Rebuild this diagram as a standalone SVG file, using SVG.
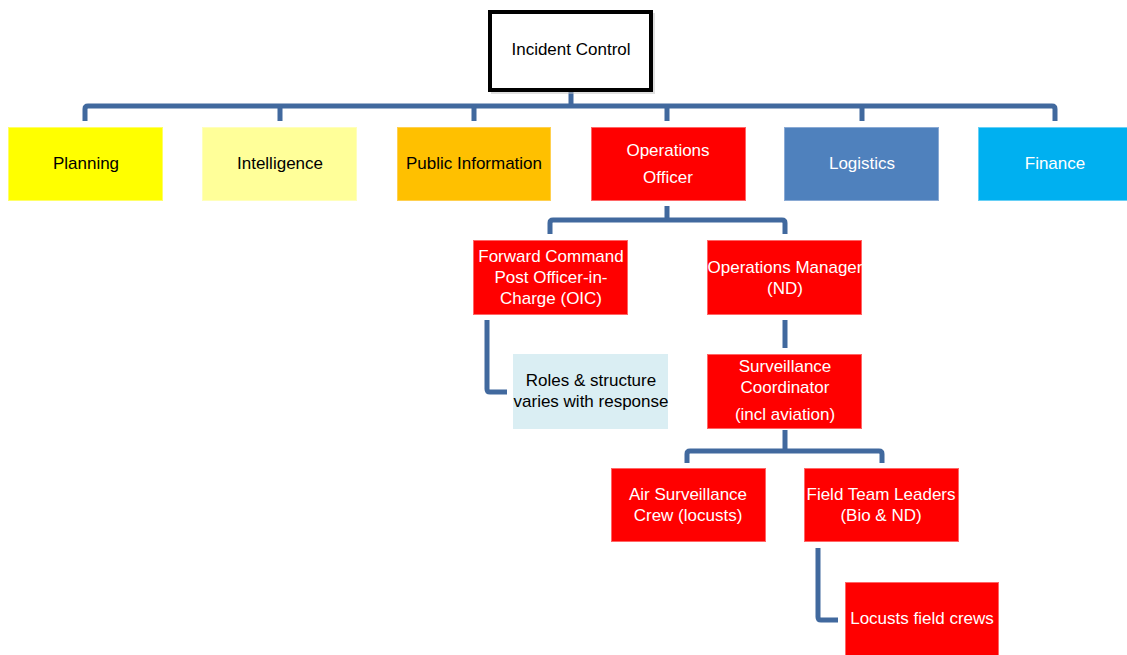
<svg xmlns="http://www.w3.org/2000/svg" width="1127" height="655" viewBox="0 0 1127 655">
  <style>
    .box { stroke-width: 1; }
    .lbl { font-family: "Liberation Sans", Arial, sans-serif; font-size: 17px; text-anchor: middle; }
    .dark { fill: #000000; }
    .light { fill: #ffffff; }
    .conn { fill: none; stroke: #41699e; stroke-width: 5; stroke-linejoin: round; stroke-linecap: butt; }
  </style>
  <rect width="1127" height="655" fill="#ffffff"/>

  <!-- connectors -->
  <g id="connectors">
    <path class="conn" d="M571 92 V106"/>
    <path class="conn" d="M85 121 V109 Q85 106 88 106 H1052 Q1055 106 1055 109 V121"/>
    <path class="conn" d="M280 106 V121 M474 106 V121 M667 106 V121 M862 106 V121"/>
    <path class="conn" d="M667 206 V220"/>
    <path class="conn" d="M550 234 V223 Q550 220 553 220 H782 Q785 220 785 223 V234"/>
    <path class="conn" d="M487 320 V389 Q487 392 490 392 H507"/>
    <path class="conn" d="M785 320 V348"/>
    <path class="conn" d="M785 430 V451"/>
    <path class="conn" d="M687 463 V454 Q687 451 690 451 H879 Q882 451 882 454 V463"/>
    <path class="conn" d="M818 548 V617 Q818 620 821 620 H838"/>
  </g>

  <g id="incident-control">
    <rect x="491" y="13" width="164" height="81" fill="#bfbfbf" opacity="0.5"/>
    <rect x="490" y="12" width="161" height="78" fill="#ffffff" stroke="#000000" stroke-width="4"/>
    <text class="lbl dark" x="571" y="55">Incident Control</text>
  </g>

  <g id="planning">
    <rect class="box" x="8.5" y="127.5" width="154" height="73" fill="#ffff00" stroke="#ffff66"/>
    <text class="lbl dark" x="86" y="169">Planning</text>
  </g>
  <g id="intelligence">
    <rect class="box" x="202.5" y="127.5" width="154" height="73" fill="#ffff99" stroke="#ffffbb"/>
    <text class="lbl dark" x="280" y="169">Intelligence</text>
  </g>
  <g id="public-information">
    <rect class="box" x="397.5" y="127.5" width="153" height="73" fill="#ffc000" stroke="#ffd050"/>
    <text class="lbl dark" x="474" y="169">Public Information</text>
  </g>
  <g id="operations-officer">
    <rect class="box" x="591.5" y="127.5" width="154" height="73" fill="#ff0000" stroke="#ff6666"/>
    <text class="lbl light" x="668" y="156">Operations</text>
    <text class="lbl light" x="668" y="183">Officer</text>
  </g>
  <g id="logistics">
    <rect class="box" x="784.5" y="127.5" width="154" height="73" fill="#4f81bd" stroke="#8aaad4"/>
    <text class="lbl light" x="862" y="169">Logistics</text>
  </g>
  <g id="finance">
    <rect class="box" x="978.5" y="127.5" width="154" height="73" fill="#00b0f0" stroke="#66d0f6"/>
    <text class="lbl light" x="1055" y="169">Finance</text>
  </g>

  <g id="forward-command">
    <rect class="box" x="473.5" y="240.5" width="154" height="74" fill="#ff0000" stroke="#ff6666"/>
    <text class="lbl light" x="551" y="262">Forward Command</text>
    <text class="lbl light" x="551" y="283">Post Officer-in-</text>
    <text class="lbl light" x="551" y="304">Charge (OIC)</text>
  </g>
  <g id="operations-manager">
    <rect class="box" x="707.5" y="240.5" width="154" height="74" fill="#ff0000" stroke="#ff6666"/>
    <text class="lbl light" x="785" y="273">Operations Manager</text>
    <text class="lbl light" x="785" y="294">(ND)</text>
  </g>
  <g id="roles-note">
    <rect x="513" y="354" width="155" height="75" fill="#daeef3"/>
    <text class="lbl dark" x="591" y="386">Roles &amp; structure</text>
    <text class="lbl dark" x="591" y="407">varies with response</text>
  </g>
  <g id="surveillance-coordinator">
    <rect class="box" x="707.5" y="354.5" width="154" height="74" fill="#ff0000" stroke="#ff6666"/>
    <text class="lbl light" x="785" y="372">Surveillance</text>
    <text class="lbl light" x="785" y="393">Coordinator</text>
    <text class="lbl light" x="785" y="420">(incl aviation)</text>
  </g>
  <g id="air-surveillance">
    <rect class="box" x="611.5" y="468.5" width="154" height="73" fill="#ff0000" stroke="#ff6666"/>
    <text class="lbl light" x="688" y="500">Air Surveillance</text>
    <text class="lbl light" x="688" y="521">Crew (locusts)</text>
  </g>
  <g id="field-team-leaders">
    <rect class="box" x="804.5" y="468.5" width="154" height="73" fill="#ff0000" stroke="#ff6666"/>
    <text class="lbl light" x="881" y="500">Field Team Leaders</text>
    <text class="lbl light" x="881" y="521">(Bio &amp; ND)</text>
  </g>
  <g id="locusts-field-crews">
    <rect class="box" x="845.5" y="582.5" width="153" height="74" fill="#ff0000" stroke="#ff6666"/>
    <text class="lbl light" x="922" y="624">Locusts field crews</text>
  </g>
</svg>
